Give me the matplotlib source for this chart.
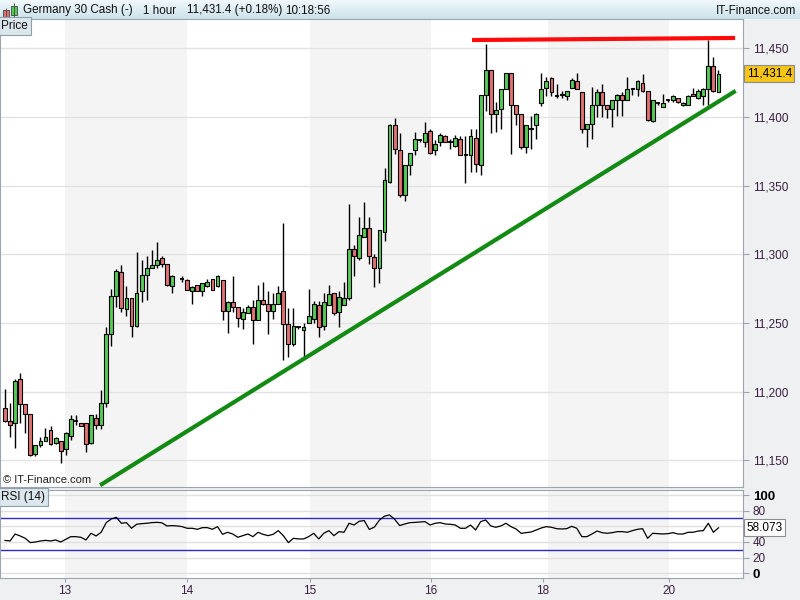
import numpy as np
import matplotlib
matplotlib.use('Agg')
import matplotlib.pyplot as plt
from matplotlib.patches import Rectangle
from matplotlib.colors import LinearSegmentedColormap
from matplotlib.transforms import blended_transform_factory

plt.rcParams['font.family'] = ['Liberation Sans', 'DejaVu Sans']

# hourly candles, Germany 30 Cash (None = missing bar)
opens = [11188, 11179, 11177, 11209, 11191, 11184, 11155, 11161, 11164, 11172,
         11163, 11164, 11158, 11168, 11179, 11177, 11177, 11163, 11181, 11176,
         11192, 11242, 11270, 11287, 11260, 11268, 11248, 11273, 11285, 11290,
         11292, 11297, 11293, 11277, None, 11282, 11281, 11273, 11278, 11273,
         11277, 11282, 11277, 11281, 11259, 11265, 11262, 11253, 11257, 11262,
         11252, 11267, 11264, 11259, 11264, 11273, 11249, 11235, 11247, 11245,
         11250, 11253, 11263, 11248, 11263, 11272, 11258, 11263, 11268, 11304,
         11297, 11313, 11319, 11298, 11290, 11316, 11353, 11394, 11376, 11343,
         11365, 11376, 11383, 11382, 11390, 11376, 11382, 11386, 11382, 11379,
         11384, 11372, 11372, 11385, 11365, 11416, 11434, 11402, 11406, 11420,
         11432, 11409, 11402, 11378, 11391, 11394, 11410, 11421, 11428, 11415,
         11416, 11415, 11421, 11426, 11418, 11391, 11395, 11409, 11418, 11409,
         11406, 11412, 11416, 11412, 11420, 11420, 11425, 11419, 11397, 11410,
         11407, 11412, 11412, 11414, 11409, 11409, 11417, 11414, 11415, 11420,
         11437, 11418]
highs = [11202, 11192, 11209, 11214, 11191, 11184, 11161, 11167, 11174, 11175,
         11167, 11164, 11171, 11183, 11183, 11177, 11177, 11183, 11184, 11201,
         11247, 11275, 11289, 11292, 11277, 11268, 11302, 11296, 11299, 11303,
         11309, 11299, 11293, 11285, None, 11284, 11282, 11277, 11278, 11279,
         11282, 11282, 11285, 11281, 11266, 11284, 11262, 11261, 11263, 11267,
         11278, 11280, 11273, 11272, 11277, 11323, 11261, 11261, 11248, 11250,
         11275, 11266, 11266, 11272, 11278, 11272, 11273, 11280, 11337, 11307,
         11327, 11338, 11327, 11300, 11318, 11363, 11395, 11399, 11388, 11365,
         11374, 11389, 11384, 11396, 11391, 11383, 11388, 11387, 11384, 11387,
         11386, 11386, 11391, 11391, 11416, 11453, 11434, 11411, 11420, 11432,
         11432, 11409, 11402, 11394, 11401, 11403, 11432, 11429, 11429, 11424,
         11419, 11419, 11428, 11432, 11418, 11395, 11422, 11420, 11424, 11409,
         11412, 11417, 11418, 11429, 11421, 11427, 11431, 11419, 11412, 11411,
         11417, 11413, 11416, 11414, 11411, 11416, 11421, 11420, 11421, 11456,
         11444, 11434]
lows = [11178, 11167, 11159, 11177, 11170, 11153, 11153, 11160, 11164, 11161,
        11162, 11148, 11154, 11165, 11176, 11175, 11156, 11162, 11173, 11173,
        11189, 11233, 11262, 11258, 11255, 11240, 11247, 11265, 11267, 11290,
        11290, 11291, 11277, 11272, None, 11280, 11274, 11264, 11273, 11270,
        11276, 11274, 11276, 11252, 11243, 11258, 11247, 11246, 11257, 11235,
        11252, 11263, 11242, 11253, 11264, 11223, 11225, 11233, 11246, 11224,
        11250, 11250, 11240, 11245, 11263, 11256, 11247, 11263, 11267, 11284,
        11296, 11313, 11293, 11276, 11279, 11310, 11352, 11373, 11342, 11339,
        11358, 11372, 11382, 11378, 11373, 11372, 11379, 11382, 11377, 11378,
        11372, 11352, 11360, 11360, 11358, 11404, 11388, 11389, 11391, 11420,
        11373, 11394, 11377, 11374, 11377, 11384, 11408, 11415, 11415, 11414,
        11414, 11412, 11421, 11420, 11388, 11378, 11384, 11400, 11400, 11399,
        11393, 11401, 11401, 11412, 11416, 11415, 11418, 11397, 11396, 11409,
        11407, 11411, 11411, 11410, 11408, 11409, 11415, 11413, 11409, 11409,
        11418, 11418]
closes = [11179, 11176, 11208, 11191, 11184, 11154, 11161, 11164, 11167, 11162,
          11166, 11157, 11170, 11180, 11179, 11175, 11162, 11183, 11176, 11192,
          11242, 11270, 11288, 11261, 11268, 11248, 11272, 11285, 11290, 11292,
          11296, 11293, 11278, 11284, None, 11282, 11274, 11276, 11273, 11279,
          11280, 11274, 11284, 11259, 11265, 11262, 11254, 11258, 11262, 11252,
          11267, 11264, 11259, 11264, 11272, 11249, 11235, 11248, 11247, 11247,
          11255, 11264, 11247, 11265, 11271, 11257, 11269, 11268, 11304, 11299,
          11314, 11319, 11299, 11290, 11318, 11354, 11394, 11377, 11343, 11365,
          11374, 11384, 11383, 11388, 11374, 11380, 11387, 11382, 11382, 11385,
          11372, 11373, 11386, 11366, 11416, 11434, 11402, 11405, 11420, 11432,
          11409, 11402, 11378, 11394, 11392, 11402, 11420, 11426, 11418, 11416,
          11417, 11419, 11427, 11420, 11391, 11395, 11409, 11418, 11409, 11406,
          11412, 11416, 11412, 11420, 11421, 11426, 11419, 11398, 11412, 11410,
          11410, 11412, 11415, 11411, 11410, 11415, 11415, 11419, 11420, 11437,
          11419, 11431.4]

rsi = [42.0, 41.3, 50.2, 47.7, 44.7, 39.2, 40.0, 41.3, 42.1, 41.3,
       42.6, 40.0, 43.4, 46.8, 46.8, 46.0, 42.6, 51.1, 47.7, 52.4,
       64.7, 69.4, 71.5, 63.9, 64.7, 57.5, 62.6, 63.4, 63.9, 64.7,
       65.1, 64.5, 60.5, 60.9, 60.5, 59.6, 57.5, 57.5, 56.2, 58.3,
       58.3, 56.2, 59.6, 49.8, 52.4, 50.2, 46.0, 48.1, 50.2, 46.8,
       52.4, 49.8, 48.1, 49.8, 54.5, 48.1, 39.2, 44.7, 43.9, 43.9,
       46.8, 51.1, 43.9, 51.1, 54.5, 48.1, 53.2, 52.4, 63.9, 61.7,
       66.5, 67.3, 56.0, 59.0, 68.0, 73.0, 74.5, 69.0, 61.0, 63.0,
       64.7, 65.0, 65.5, 66.0, 61.7, 63.9, 64.7, 63.0, 62.6, 61.7,
       57.5, 57.5, 61.7, 55.3, 66.0, 68.1, 60.5, 58.8, 60.5, 63.9,
       59.6, 56.6, 51.1, 51.9, 52.8, 55.3, 57.9, 59.6, 58.8, 57.0,
       56.6, 57.0, 60.0, 57.5, 46.8, 46.8, 50.2, 54.0, 51.9, 51.1,
       51.9, 53.2, 53.2, 52.4, 54.5, 56.2, 57.0, 44.7, 51.1, 50.6,
       50.2, 50.6, 51.9, 50.2, 50.2, 52.4, 52.4, 54.0, 54.5, 63.9,
       52.4, 58.073]

day_labels = ['13', '14', '15', '16', '18', '20']
day_pos = [11.86, 35.97, 60.28, 84.19, 106.3, 131.2]
shaded = [(11.86, 35.97), (60.28, 84.19), (107.3, 131.2)]
price_ticks = [11150, 11200, 11250, 11300, 11350, 11400, 11450]
rsi_ticks = [0, 20, 40, 80, 100]
support_x, support_y = [18.8, 144.4], [11132, 11419]
resist_x, resist_y = [92.3, 144.3], [11456, 11457.5]
last_price = 11431.4
last_rsi = 58.073

o = np.array(opens, dtype=float)
h = np.array(highs, dtype=float)
l = np.array(lows, dtype=float)
c = np.array(closes, dtype=float)
idx = np.arange(len(o))

GREEN = '#55cc55'
RED = '#e27272'
TXT = '#3b1f3f'
EDGE = '#9aa5ae'

fig = plt.figure(figsize=(8, 6), dpi=100, facecolor='#eef0f2')

# ---- title bar
axt = fig.add_axes([0, 1 - 19 / 600, 1, 19 / 600])
grad = np.linspace(0, 1, 20).reshape(-1, 1)
axt.imshow(grad, aspect='auto', extent=[0, 800, 19, 0],
           cmap=LinearSegmentedColormap.from_list('tb', ['#f0f8fb', '#cde2eb']))
axt.set_xlim(0, 800)
axt.set_ylim(19, 0)
axt.axis('off')
axt.add_patch(Rectangle((3, 10), 6, 7, fc=RED, ec='#444', lw=0.6))
axt.vlines(6, 8, 19, color='#444', lw=0.6, zorder=1)
axt.add_patch(Rectangle((11, 6), 6, 9, fc=GREEN, ec='#444', lw=0.6))
axt.vlines(14, 3, 19, color='#444', lw=0.6, zorder=1)
for x, s in [(23, 'Germany 30 Cash (-)'), (143, '1 hour'),
             (187, '11,431.4 (+0.18%)'), (285, '10:18:56')]:
    axt.text(x, 10.5, s, fontsize=8.4, va='center', ha='left', color='#111')
axt.text(796, 10.5, 'IT-Finance.com', fontsize=8.4, va='center', ha='right', color='#111')

# ---- price panel
ax = fig.add_axes([0, 1 - 487 / 600, 743 / 800, 468 / 600])
ax.set_facecolor('white')
ax.set_xlim(-0.99, 145.85)
ax.set_ylim(11130.7, 11471.3)
for a, b in shaded:
    ax.axvspan(a, b, color='#f4f4f4', zorder=0, lw=0)
for t in price_ticks:
    ax.axhline(t, color='#e2e2e2', lw=1, zorder=1)

ok = ~np.isnan(o)
up = ok & (c >= o)
dn = ok & (c < o)
ax.vlines(idx[ok], l[ok], h[ok], color='black', lw=1, zorder=2)
body = np.abs(c - o)
flat = ok & (body < 0.8)
solid = ok & ~flat
for m, col in [(up & solid, GREEN), (dn & solid, RED)]:
    ax.bar(idx[m], body[m], width=0.76, bottom=np.minimum(o, c)[m],
           color=col, edgecolor='black', linewidth=0.8, zorder=3)
ax.hlines((o[flat] + c[flat]) / 2, idx[flat] - 0.45, idx[flat] + 0.45,
          color='black', lw=1.3, zorder=3)

ax.plot(support_x, support_y, color='#138a13', lw=3, zorder=4, solid_capstyle='butt')
ax.plot(resist_x, resist_y, color='#ff0a0a', lw=3, zorder=4, solid_capstyle='butt')

ax.yaxis.tick_right()
ax.set_yticks(price_ticks)
ax.set_yticklabels([f'{t:,}' for t in price_ticks])
ax.tick_params(axis='y', colors=EDGE, labelcolor=TXT, labelsize=8.5, length=4, pad=3)
ax.set_xticks([])
for s in ax.spines.values():
    s.set_color(EDGE)

tr = blended_transform_factory(ax.transAxes, ax.transData)
ax.text(1.005, last_price, f'{last_price:,.1f}', transform=tr, fontsize=8.5,
        va='center', ha='left', color='black', clip_on=False, zorder=6,
        bbox=dict(boxstyle='square,pad=0.2', fc='#f5c518', ec='#8c8c8c', lw=0.8))
ax.text(0.004, 0.004, '\u00a9 IT-Finance.com', transform=ax.transAxes,
        fontsize=8, color='#222', va='bottom', ha='left', zorder=5)
ax.text(0.002, 0.998, 'Price', transform=ax.transAxes, fontsize=8.5, va='top', ha='left',
        color='#111', zorder=6,
        bbox=dict(boxstyle='square,pad=0.25', fc='#dbe6ed', ec='#8fa0ab', lw=0.8))

# ---- RSI panel
ax2 = fig.add_axes([0, 1 - 578 / 600, 743 / 800, 88 / 600])
ax2.set_facecolor('white')
ax2.set_xlim(-0.99, 145.85)
ax2.set_ylim(-6, 106.4)
for a, b in shaded:
    ax2.axvspan(a, b, color='#f4f4f4', zorder=0, lw=0)
for t in [0, 20, 40, 60, 80, 100]:
    ax2.axhline(t, color='#e0e0e0', lw=1, zorder=1)
ax2.axhline(70, color='#2a2ad0', lw=1, zorder=2)
ax2.axhline(30, color='#2a2ad0', lw=1, zorder=2)
ax2.plot(np.arange(len(rsi)), rsi, color='black', lw=0.9, zorder=3)

ax2.yaxis.tick_right()
ax2.set_yticks(rsi_ticks)
ax2.set_yticklabels([str(t) for t in rsi_ticks])
ax2.tick_params(axis='y', colors=EDGE, labelcolor=TXT, labelsize=8.5, length=4, pad=3)
for lab in ax2.get_yticklabels():
    if lab.get_text() in ('0', '100'):
        lab.set_fontweight('bold')
        lab.set_color('black')
        lab.set_fontsize(9.5)
ax2.set_xticks(day_pos)
ax2.set_xticklabels(day_labels)
ax2.tick_params(axis='x', colors=EDGE, labelcolor=TXT, labelsize=8.5, length=3, pad=2)
for s in ax2.spines.values():
    s.set_color(EDGE)

tr2 = blended_transform_factory(ax2.transAxes, ax2.transData)
ax2.text(1.005, last_rsi, f'{last_rsi:.3f}', transform=tr2, fontsize=8.5,
         va='center', ha='left', color='black', clip_on=False, zorder=6,
         bbox=dict(boxstyle='square,pad=0.2', fc='white', ec='#8c8c8c', lw=0.8))
ax2.text(0.002, 0.99, 'RSI (14)', transform=ax2.transAxes, fontsize=8.5, va='top',
         ha='left', color='#111', zorder=6,
         bbox=dict(boxstyle='square,pad=0.25', fc='#dbe6ed', ec='#8fa0ab', lw=0.8))

fig.savefig('out.png', dpi=100, facecolor=fig.get_facecolor())
